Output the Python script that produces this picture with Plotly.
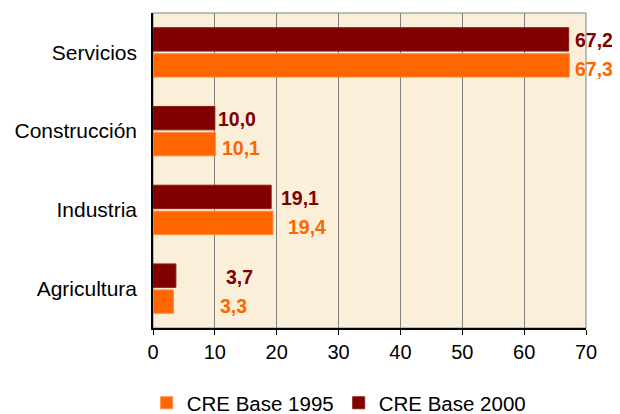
import plotly.graph_objects as go

categories = ["Agricultura", "Industria", "Construcción", "Servicios"]
base_1995 = [3.3, 19.4, 10.1, 67.3]
base_2000 = [3.7, 19.1, 10.0, 67.2]
series_names = ["CRE Base 1995", "CRE Base 2000"]
x_ticks = [0, 10, 20, 30, 40, 50, 60, 70]

c1995 = "#FF6600"
c2000 = "#800000"

# label pixel offsets (style only)
shift_1995 = [45, 13, 5, 4]
shift_2000 = [48, 8, 1, 4]

fig = go.Figure()
fig.add_trace(go.Bar(y=categories, x=base_1995, orientation="h", name=series_names[0],
                     marker=dict(color=c1995, line=dict(color="#FF8C40", width=1))))
fig.add_trace(go.Bar(y=categories, x=base_2000, orientation="h", name=series_names[1],
                     marker=dict(color=c2000, line=dict(color="#8B1A1A", width=1))))

def fmt(v):
    return f"{v:.1f}".replace(".", ",")

ann = []
for i, cat in enumerate(categories):
    ann.append(dict(x=base_1995[i], y=cat, text=f"<b>{fmt(base_1995[i])}</b>", showarrow=False,
                    xanchor="left", yanchor="middle", xshift=shift_1995[i], yshift=-17,
                    font=dict(color=c1995, size=19.5, family="Liberation Sans, Arial")))
    ann.append(dict(x=base_2000[i], y=cat, text=f"<b>{fmt(base_2000[i])}</b>", showarrow=False,
                    xanchor="left", yanchor="middle", xshift=shift_2000[i], yshift=12,
                    font=dict(color=c2000, size=19.5, family="Liberation Sans, Arial")))

fig.update_layout(
    width=620, height=414,
    margin=dict(l=145, r=42, t=5, b=94, autoexpand=False),
    paper_bgcolor="white",
    plot_bgcolor="#FBEFD9",
    barmode="group",
    bargap=0.34,
    bargroupgap=0.1,
    font=dict(family="Liberation Sans, Arial", size=20, color="black"),
    annotations=ann,
    showlegend=True,
    legend=dict(orientation="h", x=0.43, xanchor="center", xref="paper",
                y=-0.238, yanchor="middle", font=dict(size=20.5), itemwidth=30,
                traceorder="normal"),
    xaxis=dict(range=[0, 70], tickvals=x_ticks, showgrid=True, gridcolor="#808080",
               gridwidth=1, showline=True, linecolor="black", linewidth=1.5,
               ticks="outside", ticklen=5, tickcolor="black", zeroline=False,
               mirror=False, tickfont=dict(size=20)),
    yaxis=dict(categoryorder="array", categoryarray=categories, showline=True,
               linecolor="black", linewidth=1.5, ticks="", ticklabelstandoff=10,
               tickfont=dict(size=21)),
    shapes=[dict(type="rect", xref="paper", yref="paper", x0=0, x1=1, y0=0, y1=1,
                 line=dict(color="#808080", width=1), fillcolor="rgba(0,0,0,0)", layer="below")],
)

fig.write_html("out.html")
